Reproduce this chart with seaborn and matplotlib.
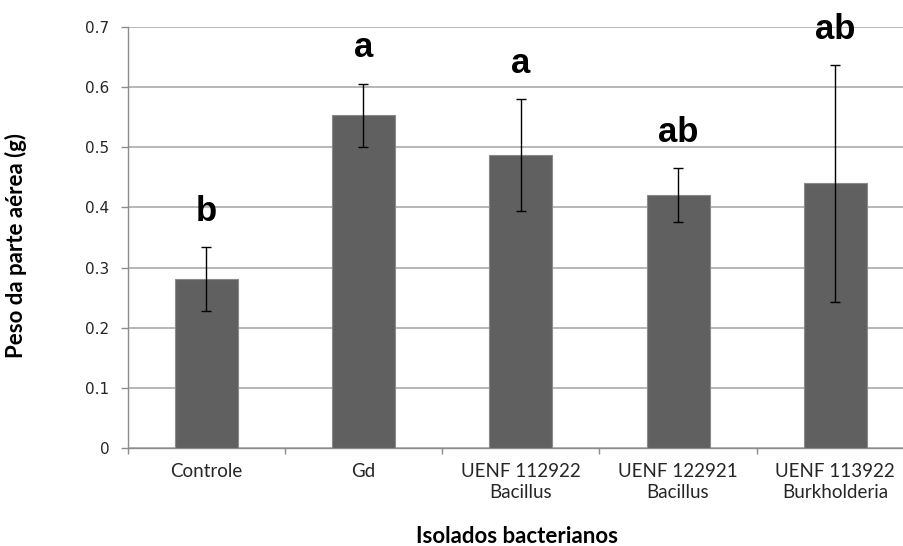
import matplotlib
matplotlib.use("Agg")
import matplotlib.pyplot as plt
import seaborn as sns
import pandas as pd
from matplotlib.ticker import FixedLocator

# Shoot dry weight per bacterial isolate, with standard deviation and Tukey letters
categories = ["Controle", "Gd", "UENF 112922\nBacillus", "UENF 122921\nBacillus",
              "UENF 113922\nBurkholderia"]
means = [0.281, 0.553, 0.487, 0.420, 0.440]
errors = [0.053, 0.053, 0.093, 0.045, 0.197]
letters = ["b", "a", "a", "ab", "ab"]
yticks = [0, 0.1, 0.2, 0.3, 0.4, 0.5, 0.6, 0.7]
ytick_labels = ["0", "0.1", "0.2", "0.3", "0.4", "0.5", "0.6", "0.7"]

df = pd.DataFrame({"isolado": categories, "peso": means, "dp": errors})

sns.set_theme(style="white")
plt.rcParams["font.family"] = ["DejaVu Sans"]

fig = plt.figure(figsize=(9.04, 5.46), dpi=100)
ax = fig.add_axes([127.5 / 904, 98 / 546, 786.5 / 904, 421 / 546])

sns.barplot(data=df, x="isolado", y="peso", color="#606060", width=0.4,
            edgecolor="#8a8a8a", linewidth=0.8, saturation=1, errorbar=None,
            ax=ax, zorder=3)
ax.errorbar(range(len(means)), means, yerr=errors, fmt="none", ecolor="black",
            elinewidth=1.0, capsize=3.8, capthick=1.0, zorder=4)

for i, (m, e, lab) in enumerate(zip(means, errors, letters)):
    ax.annotate(lab, xy=(i, m + e), xytext=(0, 19), textcoords="offset points",
                ha="center", va="baseline", fontsize=25, fontweight="bold",
                family="Liberation Sans", color="black", zorder=5,
                annotation_clip=False)

ax.set_xlim(-0.5, len(categories) - 0.5)
ax.set_ylim(0, 0.7)
ax.set_yticks(yticks)
ax.set_yticklabels(ytick_labels)
ax.yaxis.grid(True, color="#a3a3a3", linewidth=1.1, zorder=0)
ax.xaxis.grid(False)
ax.set_axisbelow(True)

for side in ["top", "right"]:
    ax.spines[side].set_visible(False)
for side in ["left", "bottom"]:
    ax.spines[side].set_color("#8c8c8c")
    ax.spines[side].set_linewidth(1.0)

ax.tick_params(axis="y", which="major", direction="out", length=5, width=1.0,
               color="#8c8c8c", left=True, pad=8, labelsize=11,
               labelcolor="#262626")
ax.tick_params(axis="x", which="major", length=0, pad=11, labelsize=13.5,
               labelcolor="#262626")
ax.xaxis.set_minor_locator(FixedLocator([i - 0.5 for i in range(len(categories) + 1)]))
ax.tick_params(axis="x", which="minor", direction="out", length=4.5, width=1.0,
               color="#8c8c8c", bottom=True)
for t in ax.get_xticklabels():
    t.set_family("Lato")
    t.set_linespacing(1.3)

ax.set_xlabel("Isolados bacterianos", fontsize=16, fontweight="bold",
              family="Lato", color="black")
ax.set_ylabel("Peso da parte aérea (g)", fontsize=16, fontweight="bold",
              family="Lato", color="black")
ax.xaxis.set_label_coords(0.495, -0.185)
ax.yaxis.set_label_coords(-0.128, 0.48)

fig.savefig("out.png", dpi=100)
